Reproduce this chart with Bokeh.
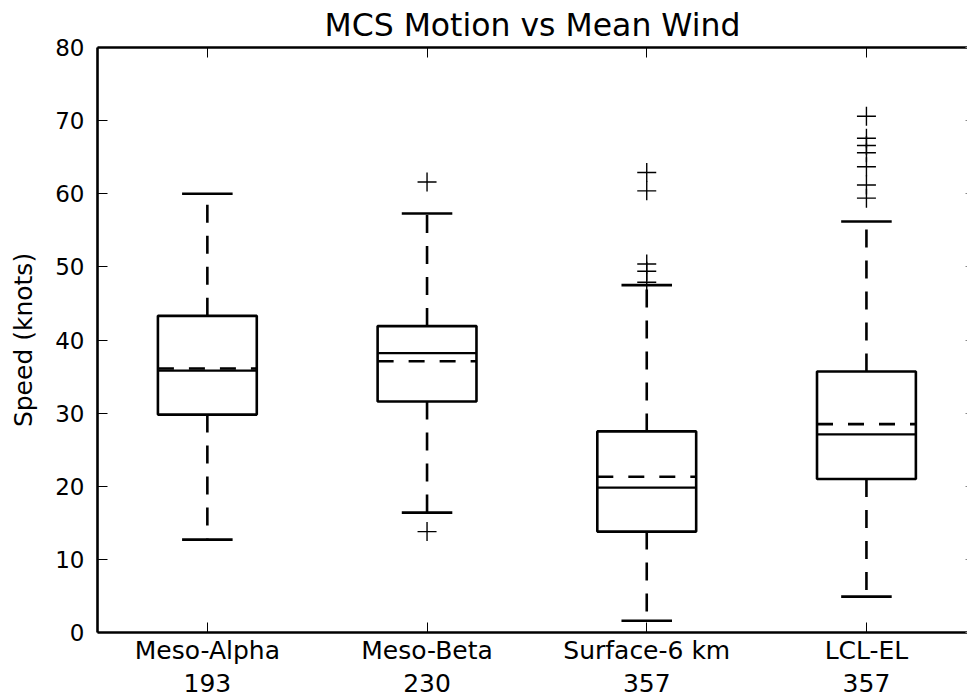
from bokeh.plotting import figure
from bokeh.models import ColumnDataSource, LinearAxis, FixedTicker, Range1d
from bokeh.embed import file_html
from bokeh.resources import INLINE

# Box-plot statistics of MCS motion speed (knots) for each mean-wind layer
categories = ["Meso-Alpha", "Meso-Beta", "Surface-6 km", "LCL-EL"]
counts = [193, 230, 357, 357]
q1 = [29.8, 31.6, 13.8, 21.0]
median = [35.8, 38.2, 19.8, 27.1]
mean = [36.1, 37.1, 21.3, 28.5]
q3 = [43.3, 41.9, 27.5, 35.7]
whisker_lo = [12.7, 16.4, 1.6, 4.9]
whisker_hi = [60.0, 57.3, 47.5, 56.2]
outliers = [
    [],
    [61.6, 13.8],
    [62.9, 60.4, 50.4, 49.4, 47.9],
    [70.6, 67.6, 66.6, 65.6, 63.7, 61.2, 59.4],
]
y_ticks = [0, 10, 20, 30, 40, 50, 60, 70, 80]

FONT = "DejaVu Sans"
BOX_W = 0.45
CAP_W = 0.23

pos = list(range(1, len(categories) + 1))
half = BOX_W / 2
cap = CAP_W / 2

src = ColumnDataSource(dict(
    x=pos,
    left=[p_ - half for p_ in pos], right=[p_ + half for p_ in pos],
    cl=[p_ - cap for p_ in pos], cr=[p_ + cap for p_ in pos],
    q1=q1, q3=q3, med=median, mean=mean, lo=whisker_lo, hi=whisker_hi,
))

ox, oy = [], []
for p_, vals in zip(pos, outliers):
    for v in vals:
        ox.append(p_)
        oy.append(v)
out_src = ColumnDataSource(dict(x=ox, y=oy))

p = figure(
    width=967, height=700,
    x_range=Range1d(0.5, 4.46), y_range=Range1d(0, 80),
    output_backend="svg", toolbar_location=None,
    title="MCS Motion vs Mean Wind",
    min_border_left=97, min_border_right=0,
    min_border_top=47, min_border_bottom=68,
    x_axis_location=None, y_axis_location=None,
)
p.outline_line_color = None
p.xgrid.visible = False
p.ygrid.visible = False
p.background_fill_color = "white"
p.border_fill_color = "white"

p.title.text_font = FONT
p.title.text_font_size = "31.5px"
p.title.text_font_style = "normal"
p.title.text_color = "black"
p.title.align = "center"
p.title.offset = 11
p.title.standoff = 9

LW = 2.6

# whiskers (dashed) and caps
p.segment(x0="x", y0="q3", x1="x", y1="hi", source=src, line_color="black",
          line_width=LW, line_dash="18 13")
p.segment(x0="x", y0="q1", x1="x", y1="lo", source=src, line_color="black",
          line_width=LW, line_dash="18 13")
p.segment(x0="cl", y0="hi", x1="cr", y1="hi", source=src, line_color="black", line_width=LW)
p.segment(x0="cl", y0="lo", x1="cr", y1="lo", source=src, line_color="black", line_width=LW)

# boxes
p.quad(left="left", right="right", bottom="q1", top="q3", source=src,
       fill_color=None, line_color="black", line_width=LW)

# median (solid) and mean (dashed)
p.segment(x0="left", y0="med", x1="right", y1="med", source=src,
          line_color="black", line_width=2.2)
p.segment(x0="left", y0="mean", x1="right", y1="mean", source=src,
          line_color="black", line_width=2.6, line_dash="16 15")

# outliers
p.scatter(x="x", y="y", source=out_src, marker="cross", size=19,
          line_color="black", line_width=1.4)

tick_labels = {p_: f"{c}\n{n}" for p_, c, n in zip(pos, categories, counts)}

xb = LinearAxis(ticker=FixedTicker(ticks=pos), major_label_overrides=tick_labels)
xb.major_tick_in = 10
xb.major_tick_out = 0
xb.minor_tick_line_color = None
xb.major_tick_line_width = 1
xb.axis_line_width = 2.6
xb.major_label_standoff = 3
xb.major_label_text_font = FONT
xb.major_label_text_font_size = "25px"
xb.major_label_text_line_height = 1.15
xb.major_label_text_color = "black"
p.add_layout(xb, "below")

yl = LinearAxis(ticker=FixedTicker(ticks=y_ticks), axis_label="Speed (knots)")
yl.major_tick_in = 10
yl.major_tick_out = 0
yl.minor_tick_line_color = None
yl.major_tick_line_width = 1
yl.axis_line_width = 2.6
yl.major_label_standoff = 13
yl.major_label_text_font = FONT
yl.major_label_text_font_size = "23px"
yl.major_label_text_color = "black"
yl.axis_label_text_font = FONT
yl.axis_label_text_font_size = "25px"
yl.axis_label_text_font_style = "normal"
yl.axis_label_text_color = "black"
yl.axis_label_standoff = 14
p.add_layout(yl, "left")

# top spine with inward ticks, no labels
xt = LinearAxis(ticker=FixedTicker(ticks=pos))
xt.major_tick_in = 10
xt.major_tick_out = 0
xt.minor_tick_line_color = None
xt.major_tick_line_width = 1
xt.axis_line_width = 2.6
xt.major_label_standoff = 0
xt.major_label_text_font_size = "1px"
xt.major_label_text_color = None
xt.major_label_text_alpha = 0
p.add_layout(xt, "above")

# right-hand ticks at the frame edge, no labels
yr = LinearAxis(ticker=FixedTicker(ticks=y_ticks))
yr.major_tick_in = 2
yr.major_tick_out = 0
yr.minor_tick_line_color = None
yr.major_tick_line_color = "#888888"
yr.axis_line_color = None
yr.major_label_standoff = 0
yr.major_label_text_font_size = "1px"
yr.major_label_text_color = None
yr.major_label_text_alpha = 0
p.add_layout(yr, "right")

open("out.html", "w").write(file_html(p, INLINE))
